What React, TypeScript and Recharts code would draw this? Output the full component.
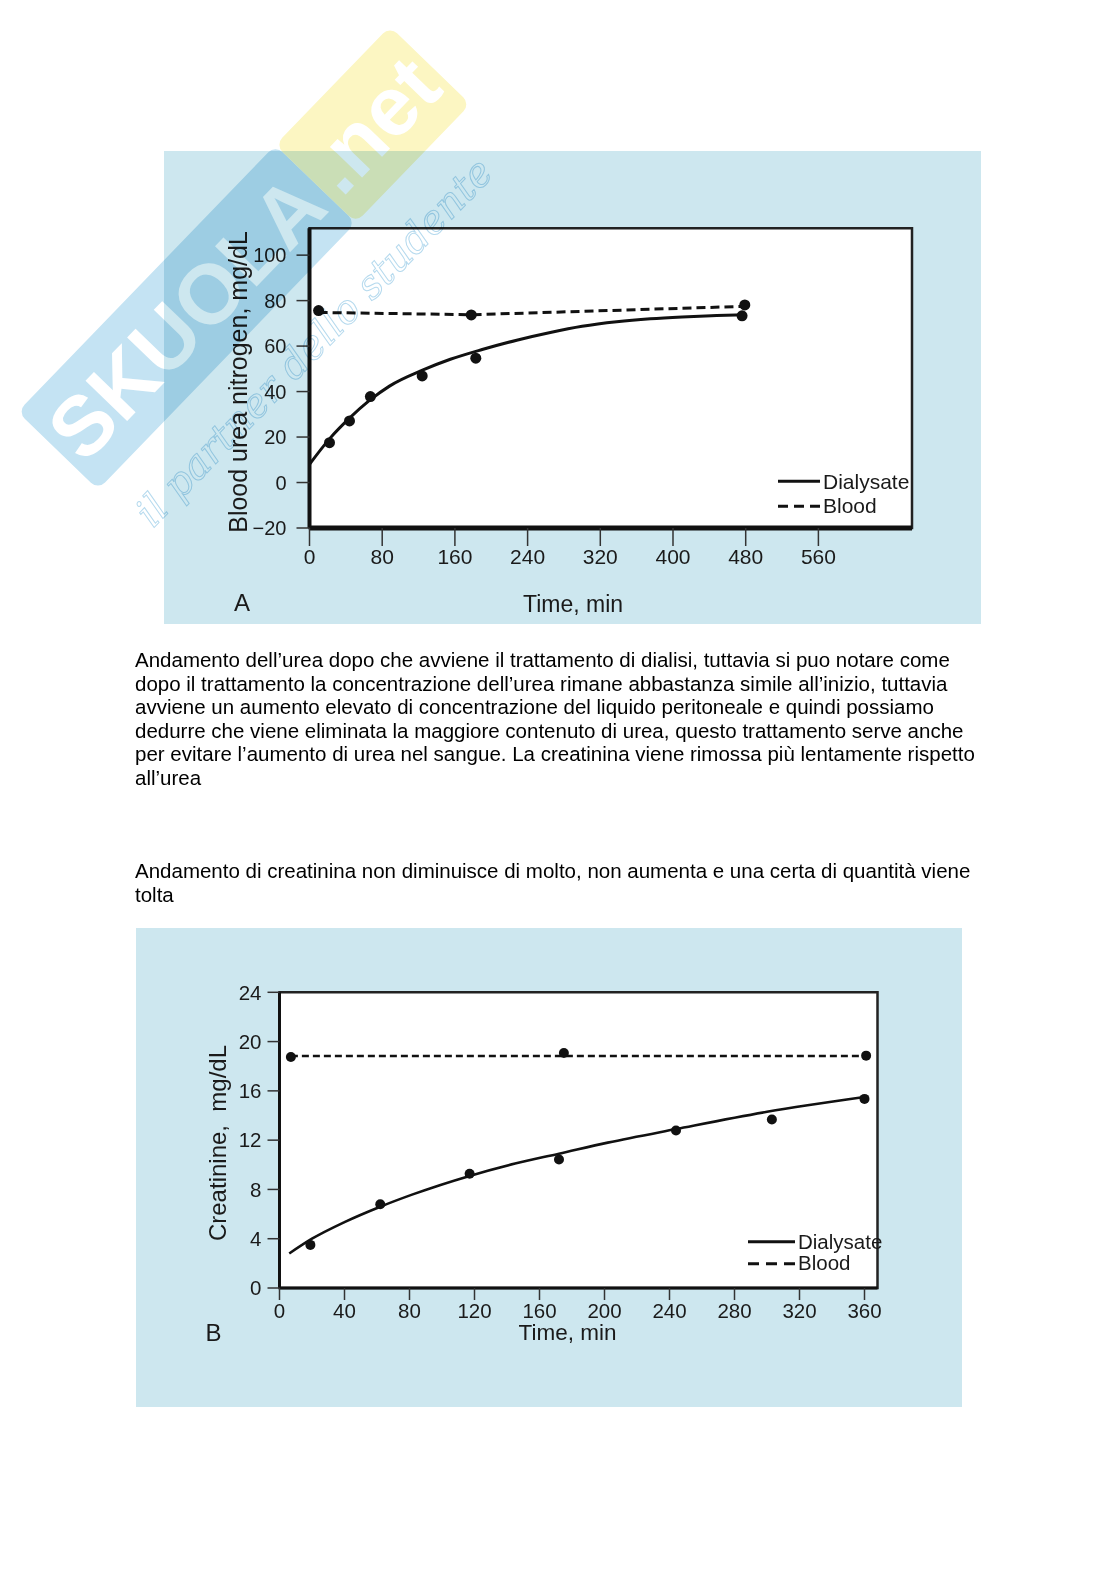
import React from 'react';
import { ComposedChart, XAxis, YAxis, Line, Scatter, ReferenceArea, Legend } from 'recharts';

const FONT = "'Liberation Sans', Arial, Helvetica, sans-serif";
const PANEL = '#cde7ef';
const INK = '#111';

// --- chart A: blood urea nitrogen ---
const ureaTicksX = [0, 80, 160, 240, 320, 400, 480, 560];
const ureaTicksY = [-20, 0, 20, 40, 60, 80, 100];
const ureaDomainX = [0, 663];
const ureaDomainY = [-20, 111.8];

// fitted curves
const ureaDialysateFit = [
	{ t: 0, v: 8 }, { t: 22, v: 19.2 }, { t: 44, v: 28.3 }, { t: 66, v: 36.1 },
	{ t: 88, v: 42.4 }, { t: 125, v: 49.5 }, { t: 155, v: 54.2 }, { t: 190, v: 58.5 },
	{ t: 228, v: 62.6 }, { t: 265, v: 66 }, { t: 300, v: 68.7 }, { t: 338, v: 70.7 },
	{ t: 375, v: 72 }, { t: 410, v: 72.8 }, { t: 448, v: 73.4 }, { t: 480, v: 73.8 },
];
const ureaBloodFit = [{ t: 10, v: 74.8 }, { t: 180, v: 73.8 }, { t: 480, v: 77.5 }];

// measured points
const ureaDialysatePoints = [
	{ t: 22, v: 17.5 }, { t: 44, v: 27.1 }, { t: 67, v: 37.8 },
	{ t: 124, v: 46.9 }, { t: 183, v: 54.7 }, { t: 476, v: 73.3 },
];
const ureaBloodPoints = [{ t: 10, v: 75.6 }, { t: 178, v: 73.7 }, { t: 479, v: 78.1 }];

// --- chart B: creatinine ---
const creatTicksX = [0, 40, 80, 120, 160, 200, 240, 280, 320, 360];
const creatTicksY = [0, 4, 8, 12, 16, 20, 24];
const creatDomainX = [0, 368];
const creatDomainY = [0, 24];

const creatDialysateFit = [
	{ t: 6, v: 2.8 }, { t: 20, v: 4 }, { t: 40, v: 5.35 }, { t: 62, v: 6.6 },
	{ t: 82, v: 7.6 }, { t: 117, v: 9.1 }, { t: 145, v: 10.1 }, { t: 172, v: 10.9 },
	{ t: 202, v: 11.8 }, { t: 244, v: 12.9 }, { t: 300, v: 14.3 }, { t: 360, v: 15.5 },
];
const creatBloodFit = [{ t: 7, v: 18.82 }, { t: 360, v: 18.82 }];

const creatDialysatePoints = [
	{ t: 19, v: 3.5 }, { t: 62, v: 6.8 }, { t: 117, v: 9.27 }, { t: 172, v: 10.43 },
	{ t: 244, v: 12.78 }, { t: 303, v: 13.68 }, { t: 360, v: 15.35 },
];
const creatBloodPoints = [{ t: 7, v: 18.75 }, { t: 175, v: 19.08 }, { t: 361, v: 18.86 }];

const seriesNames = ['Dialysate', 'Blood'];

const paragraph1 = [
	'Andamento dell’urea dopo che avviene il trattamento di dialisi, tuttavia si puo notare come',
	'dopo il trattamento la concentrazione dell’urea rimane abbastanza simile all’inizio, tuttavia',
	'avviene un aumento elevato di concentrazione del liquido peritoneale e quindi possiamo',
	'dedurre che viene eliminata la maggiore contenuto di urea, questo trattamento serve anche',
	'per evitare l’aumento di urea nel sangue. La creatinina viene rimossa più lentamente rispetto',
	'all’urea',
];
const paragraph2 = [
	'Andamento di creatinina non diminuisce di molto, non aumenta e una certa di quantità viene',
	'tolta',
];

const minusSign = (v: number) => String(v).replace('-', '\u2212');

const makeDot = (r: number) => (p: any) => <circle cx={p.cx} cy={p.cy} r={r} fill={INK} />;

const makeLegend = (fontSize: number, lineW: number, rowH: number, dash: string) => (props: any) => {
	const items = (props.payload || [])
		.filter((e: any) => seriesNames.includes(e.value))
		.sort((a: any, b: any) => seriesNames.indexOf(a.value) - seriesNames.indexOf(b.value));
	return (
		<div style={{ fontFamily: FONT, color: '#1a1a1a' }}>
			{items.map((e: any) => (
				<div key={e.value} style={{ display: 'flex', alignItems: 'center', height: rowH }}>
					<svg width={lineW} height={rowH}>
						<line
							x1={0}
							x2={lineW}
							y1={rowH / 2}
							y2={rowH / 2}
							stroke={INK}
							strokeWidth={3}
							strokeDasharray={e.value === 'Blood' ? dash : undefined}
						/>
					</svg>
					<span style={{ fontSize, lineHeight: 1, marginLeft: 3 }}>{e.value}</span>
				</div>
			))}
		</div>
	);
};

const Label = (props: { x: number; y: number; size: number; text: string; rotate?: boolean }) => (
	<div
		style={{
			position: 'absolute',
			left: props.x,
			top: props.y,
			fontFamily: FONT,
			fontSize: props.size,
			lineHeight: 1,
			color: '#1a1a1a',
			whiteSpace: 'pre',
			transform: `translate(-50%, -50%)${props.rotate ? ' rotate(-90deg)' : ''}`,
		}}
	>
		{props.text}
	</div>
);

const UreaChart = () => (
	<div style={{ position: 'absolute', left: 164, top: 151, width: 817, height: 473, background: PANEL }}>
		<ComposedChart width={817} height={473} margin={{ top: 77.3, right: 69, bottom: 56, left: 85.5 }}>
			<XAxis
				type='number'
				dataKey='t'
				domain={ureaDomainX}
				ticks={ureaTicksX}
				interval={0}
				allowDataOverflow
				height={40}
				tickSize={18}
				tickMargin={3}
				axisLine={{ stroke: INK, strokeWidth: 5 }}
				tickLine={{ stroke: '#333', strokeWidth: 1.5 }}
				tick={{ fill: '#1a1a1a', fontSize: 21, fontFamily: FONT }}
			/>
			<YAxis
				type='number'
				domain={ureaDomainY}
				ticks={ureaTicksY}
				interval={0}
				allowDataOverflow
				width={60}
				tickSize={13}
				tickMargin={10}
				tickFormatter={minusSign}
				axisLine={{ stroke: INK, strokeWidth: 4 }}
				tickLine={{ stroke: '#333', strokeWidth: 1.5 }}
				tick={{ fill: '#1a1a1a', fontSize: 20, fontFamily: FONT }}
			/>
			<ReferenceArea
				x1={ureaDomainX[0]}
				x2={ureaDomainX[1]}
				y1={ureaDomainY[0]}
				y2={ureaDomainY[1]}
				fill='#fff'
				fillOpacity={1}
				stroke='#222'
				strokeWidth={2.5}
			/>
			<Line
				data={ureaDialysateFit}
				dataKey='v'
				name='Dialysate'
				type='monotone'
				stroke={INK}
				strokeWidth={3}
				dot={false}
				isAnimationActive={false}
			/>
			<Line
				data={ureaBloodFit}
				dataKey='v'
				name='Blood'
				type='linear'
				stroke={INK}
				strokeWidth={3}
				strokeDasharray='9 5'
				dot={false}
				isAnimationActive={false}
			/>
			<Scatter data={ureaDialysatePoints} dataKey='v' shape={makeDot(5.5)} legendType='none' isAnimationActive={false} />
			<Scatter data={ureaBloodPoints} dataKey='v' shape={makeDot(5.5)} legendType='none' isAnimationActive={false} />
			<Legend
				layout='horizontal'
				align='center'
				verticalAlign='middle'
				wrapperStyle={{ left: 614, top: 318, width: 200 }}
				content={makeLegend(21, 42, 24.5, '10 6')}
			/>
		</ComposedChart>
	</div>
);

const CreatinineChart = () => (
	<div style={{ position: 'absolute', left: 136, top: 928, width: 826, height: 479, background: PANEL }}>
		<ComposedChart width={826} height={479} margin={{ top: 64.3, right: 84.5, bottom: 79, left: 83.5 }}>
			<XAxis
				type='number'
				dataKey='t'
				domain={creatDomainX}
				ticks={creatTicksX}
				interval={0}
				allowDataOverflow
				height={40}
				tickSize={12}
				tickMargin={3}
				axisLine={{ stroke: INK, strokeWidth: 3 }}
				tickLine={{ stroke: '#333', strokeWidth: 1.5 }}
				tick={{ fill: '#1a1a1a', fontSize: 20.5, fontFamily: FONT }}
			/>
			<YAxis
				type='number'
				domain={creatDomainY}
				ticks={creatTicksY}
				interval={0}
				allowDataOverflow
				width={60}
				tickSize={12}
				tickMargin={6}
				axisLine={{ stroke: INK, strokeWidth: 3 }}
				tickLine={{ stroke: '#333', strokeWidth: 1.5 }}
				tick={{ fill: '#1a1a1a', fontSize: 20.5, fontFamily: FONT }}
			/>
			<ReferenceArea
				x1={creatDomainX[0]}
				x2={creatDomainX[1]}
				y1={creatDomainY[0]}
				y2={creatDomainY[1]}
				fill='#fff'
				fillOpacity={1}
				stroke='#222'
				strokeWidth={2.5}
			/>
			<Line
				data={creatDialysateFit}
				dataKey='v'
				name='Dialysate'
				type='monotone'
				stroke={INK}
				strokeWidth={2.6}
				dot={false}
				isAnimationActive={false}
			/>
			<Line
				data={creatBloodFit}
				dataKey='v'
				name='Blood'
				type='linear'
				stroke={INK}
				strokeWidth={2.5}
				strokeDasharray='7 4'
				dot={false}
				isAnimationActive={false}
			/>
			<Scatter data={creatDialysatePoints} dataKey='v' shape={makeDot(5)} legendType='none' isAnimationActive={false} />
			<Scatter data={creatBloodPoints} dataKey='v' shape={makeDot(5)} legendType='none' isAnimationActive={false} />
			<Legend
				layout='horizontal'
				align='center'
				verticalAlign='middle'
				wrapperStyle={{ left: 612, top: 303, width: 200 }}
				content={makeLegend(20.5, 47, 21.6, '11 7')}
			/>
		</ComposedChart>
	</div>
);

const Paragraph = (props: { top: number; lines: string[] }) => (
	<div
		style={{
			position: 'absolute',
			left: 135,
			top: props.top,
			fontFamily: FONT,
			fontSize: 20.5,
			lineHeight: '23.6px',
			color: '#000',
		}}
	>
		{props.lines.map((l, i) => (
			<div key={i} style={{ whiteSpace: 'nowrap' }}>{l}</div>
		))}
	</div>
);

// faint site watermark laid over the page (multiply keeps the dark text dark)
const Watermark = () => (
	<>
		<div
			style={{
				position: 'absolute',
				left: 244,
				top: 258,
				transform: 'translate(-50%, -50%) rotate(-46deg)',
				display: 'flex',
				fontFamily: FONT,
				fontWeight: 900,
				fontSize: 84,
				lineHeight: '112px',
				color: '#ffffff',
				mixBlendMode: 'multiply',
				pointerEvents: 'none',
				whiteSpace: 'nowrap',
			}}
		>
			<span style={{ background: '#c4e3f3', padding: '0 8px', borderRadius: 10 }}>SKUOLA</span>
			<span style={{ background: '#fcf6c2', padding: '0 8px', borderRadius: 10 }}>.net</span>
		</div>
		<div
			style={{
				position: 'absolute',
				left: 314,
				top: 342,
				transform: 'translate(-50%, -50%) rotate(-46deg)',
				fontFamily: "'DejaVu Serif', serif",
				fontStyle: 'italic',
				fontSize: 40,
				color: 'transparent',
				WebkitTextStroke: '1px #b6daee',
				mixBlendMode: 'multiply',
				pointerEvents: 'none',
				whiteSpace: 'nowrap',
			}}
		>
			il partner dello studente
		</div>
	</>
);

export default function App() {
	return (
		<div style={{ position: 'absolute', left: 0, top: 0, width: 1116, height: 1579, background: '#fff', overflow: 'hidden' }}>
			<UreaChart />
			<Label x={238} y={382} size={25} text='Blood urea nitrogen, mg/dL' rotate />
			<Label x={573} y={604} size={23} text='Time, min' />
			<Label x={242} y={603} size={24} text='A' />

			<Paragraph top={648} lines={paragraph1} />
			<Paragraph top={859} lines={paragraph2} />

			<CreatinineChart />
			<Label x={217.5} y={1142.5} size={24} text={'Creatinine,  mg/dL'} rotate />
			<Label x={567.5} y={1333} size={22.5} text='Time, min' />
			<Label x={213.5} y={1332.5} size={24} text='B' />

			<Watermark />
		</div>
	);
}
